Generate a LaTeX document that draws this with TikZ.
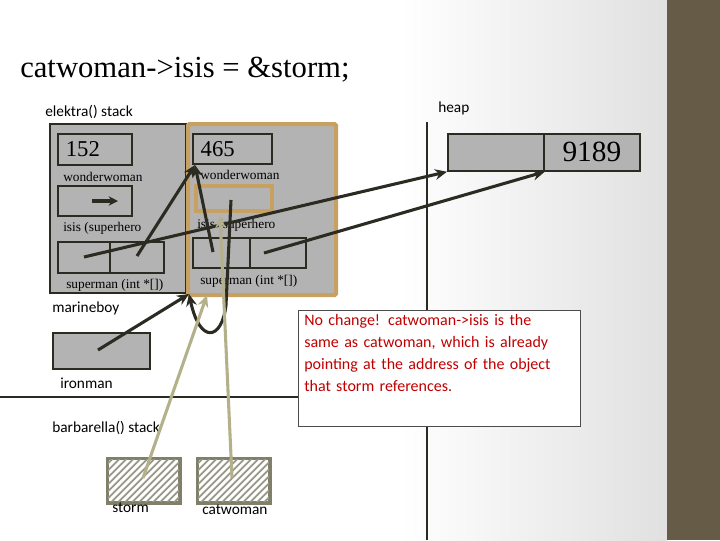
\documentclass[tikz,border=0pt]{standalone}
\usepackage{fontspec}
\setmainfont{Liberation Serif}
\newfontfamily\calfont{Carlito}
\usetikzlibrary{arrows.meta}
\definecolor{bar}{HTML}{655B46}
\definecolor{cellg}{HTML}{B3B3B3}
\definecolor{ink}{HTML}{2B2B22}
\definecolor{orng}{HTML}{C8A060}
\definecolor{khaki}{HTML}{B3B08A}
\definecolor{hatchc}{HTML}{7F7F6A}
\definecolor{redt}{HTML}{C00000}
\tikzset{
 cell/.style={draw=ink,line width=1.3pt,fill=cellg,inner sep=0pt},
 slab/.style={font=\fontsize{10}{12}\selectfont,inner sep=0pt,anchor=west},
 clab/.style={font=\calfont\fontsize{11.5}{13}\selectfont,inner sep=0pt,anchor=west},
 ptr/.style={draw=ink,line width=2.3pt,-{Stealth[length=9pt,width=8pt]}},
 kptr/.style={draw=khaki,line width=2.3pt,-{Stealth[length=9pt,width=8pt]}},
 hatch/.style={draw=hatchc,line width=1.8pt,fill=white}
}
\begin{document}
\begin{tikzpicture}[x=0.75pt,y=-0.75pt]
\useasboundingbox (0,0) rectangle (720,540);
\shade[left color=white,right color=white!88!black] (400,0) rectangle (667,540);
\fill[white] (0,0) rectangle (400,540);
\fill[bar] (667,0) rectangle (720,540);
\node[anchor=west,inner sep=0pt,font=\fontsize{23}{26}\selectfont] (title) at (20,70) {catwoman->isis = \&storm;};
\node[clab] (elab) at (45,112) {elektra() stack};
\node[clab] (hlab) at (438,108) {heap};
% lines
\draw[ink,line width=1.8pt] (0,397) -- (300,397);
\draw[ink,line width=1.8pt] (427,122) -- (427,540);
% elektra frame
\node[cell,minimum width=136*0.75pt,minimum height=169*0.75pt,anchor=north west] (ef) at (49,123) {};
\node[draw=orng,line width=3pt,fill=cellg,minimum width=148*0.75pt,minimum height=171*0.75pt,anchor=north west,rounded corners=1pt] (of) at (186,122) {};
\node[cell,minimum width=74*0.75pt,minimum height=31*0.75pt,anchor=north west,font=\fontsize{17}{19}\selectfont] (n152) at (57,133) {\hspace*{-18pt}152};
\node[slab] (ww1) at (63,177) {wonderwoman};
\node[cell,minimum width=74*0.75pt,minimum height=30*0.75pt,anchor=north west] (pb) at (57,185) {};
\coordinate (pa) at (92,201); \coordinate (pbb) at (118,201);
\draw[ink,line width=2.3pt,-{Stealth[length=7pt,width=7pt]}] (pa) -- (pbb);
\node[slab] (is1) at (63,228) {isis (superhero};
\node[cell,minimum width=52*0.75pt,minimum height=31*0.75pt,anchor=north west] (s1a) at (57,241) {};
\node[cell,minimum width=54*0.75pt,minimum height=31*0.75pt,anchor=north west] (s1b) at (109,241) {};
\node[slab] (sm1) at (66,285) {superman (int *[])};
% right struct
\node[cell,minimum width=79*0.75pt,minimum height=30*0.75pt,anchor=north west,font=\fontsize{17}{19}\selectfont] (n465) at (192,133) {\hspace*{-22pt}465};
\node[slab] (ww2) at (200,175) {wonderwoman};
\node[draw=orng,line width=3pt,fill=cellg,minimum width=76*0.75pt,minimum height=25*0.75pt,anchor=north west,inner sep=0pt] (ob) at (194,184) {};
\node[slab] (is2) at (197,225) {isis (superhero};
\node[cell,minimum width=57*0.75pt,minimum height=30*0.75pt,anchor=north west] (s2a) at (192,237) {};
\node[cell,minimum width=56*0.75pt,minimum height=30*0.75pt,anchor=north west] (s2b) at (249,237) {};
\node[slab] (sm2) at (200,281) {superman (int *[])};
% heap
\node[cell,minimum width=96*0.75pt,minimum height=37*0.75pt,anchor=north west] (h1) at (447,133) {};
\node[cell,minimum width=96*0.75pt,minimum height=37*0.75pt,anchor=north west,font=\fontsize{22}{24}\selectfont] (h2) at (543,133) {9189};
% marineboy
\node[clab] (mlab) at (52,308) {marineboy};
\node[cell,minimum width=97*0.75pt,minimum height=36*0.75pt,anchor=north west] (mb) at (52,332) {};
\node[clab] (ilab) at (60,383) {ironman};
\node[clab] (blab) at (52,428) {barbarella() stack};
% barbarella
\node[hatch,minimum width=71*0.75pt,minimum height=43*0.75pt,anchor=north west,inner sep=0pt] (st) at (107,458) {};
\node[hatch,minimum width=71*0.75pt,minimum height=43*0.75pt,anchor=north west,inner sep=0pt] (cw) at (197,458) {};
\foreach \b in {st,cw}{
 \begin{scope}
 \clip (\b.south west) rectangle (\b.north east);
 \foreach \k in {-60,-53,...,80} \draw[hatchc!80,line width=1.3pt] ([xshift=\k*0.75pt]\b.south west) -- ++(50,-50);
 \end{scope}
 \draw[hatchc,line width=1.8pt] (\b.south west) rectangle (\b.north east);
}
\node[clab] (stl) at (112,508) {storm};
\node[clab] (cwl) at (202,510) {catwoman};
% text box
\node[draw=black!70,line width=0.8pt,fill=white,minimum width=282*0.75pt,minimum height=116*0.75pt,anchor=north west] (tb) at (298,310) {};
\node[anchor=north west,inner sep=0pt,text width=272*0.75pt,align=left,text=redt,font=\calfont\fontsize{12}{16.5}\selectfont] (tt) at (304,314) {No change! catwoman->isis is the\\ same as catwoman, which is already\\ pointing at the address of the object\\ that storm references.};
% pointers
\coordinate (p1) at (84,257); \coordinate (p2) at (137,256);
\coordinate (p3) at (213,252); \coordinate (p4) at (264,253);
\coordinate (p5) at (98,350); \coordinate (p6) at (231,200);
\coordinate (t465) at (195,165); \coordinate (tof) at (189,294);
\draw[ptr] (p1) -- (h1.south west);
\draw[ptr] (p4) -- (h1.south east);
\draw[ptr] (p2) -- (t465);
\draw[ptr] (p3) -- (t465);
\draw[ptr] (p5) -- (tof);
\draw[ptr] (p6) -- (226,305) .. controls (222,340) and (200,345) .. (tof);
\coordinate (sp) at (143,478); \coordinate (cp) at (232,478);
\draw[kptr] (sp) -- (207,295);
\draw[kptr] (cp) -- (220,216);
\end{tikzpicture}
\end{document}
